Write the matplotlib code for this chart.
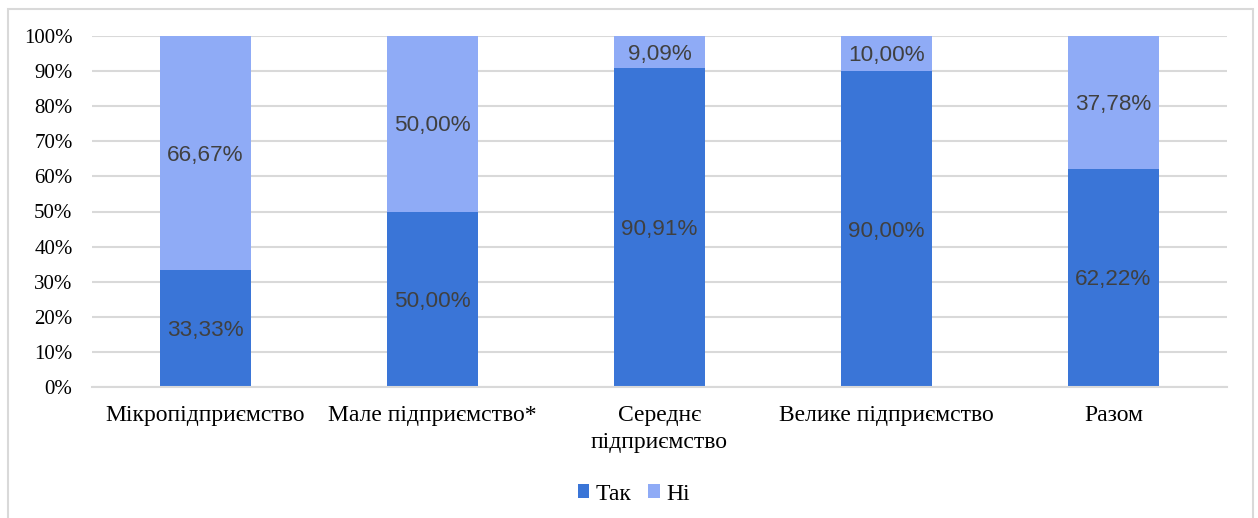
import numpy as np
import matplotlib.pyplot as plt
from matplotlib.patches import Rectangle

# Share of enterprises answering "yes"/"no", by enterprise size
categories = ['Мікропідприємство', 'Мале підприємство*', 'Середнє\nпідприємство',
              'Велике підприємство', 'Разом']
tak = [33.33, 50.00, 90.91, 90.00, 62.22]
ni = [66.67, 50.00, 9.09, 10.00, 37.78]
series_names = ['Так', 'Ні']

dark_blue = '#3A75D7'
light_blue = '#8FABF6'
grid_grey = '#D9D9D9'
label_grey = '#404040'

W, H = 1258, 518
fig = plt.figure(figsize=(W / 100, H / 100), dpi=100)

# light frame around the whole chart
fig.patches.append(Rectangle((8 / W, -0.05), (1253 - 8) / W, 1.05 - 9 / H,
                             transform=fig.transFigure, fill=False,
                             edgecolor=grid_grey, linewidth=1.5))

ax = fig.add_axes([92 / W, 1 - 387 / H, (1227 - 92) / W, (387 - 36) / H])

x = np.arange(len(categories))
width = 0.4
b1 = ax.bar(x, tak, width, color=dark_blue, label=series_names[0], zorder=2)
b2 = ax.bar(x, ni, width, bottom=tak, color=light_blue, label=series_names[1], zorder=2)

def fmt(v):
    return ('%.2f%%' % v).replace('.', ',')

# value labels in the middle of each segment
for bars, vals, base in [(b1, tak, [0] * len(tak)), (b2, ni, tak)]:
    for rect, v, b in zip(bars, vals, base):
        ax.annotate(fmt(v), (rect.get_x() + rect.get_width() / 2, b + v / 2),
                    xytext=(0, -1.5), textcoords='offset points',
                    ha='center', va='center', color=label_grey,
                    fontsize=16.2, family='Liberation Sans', zorder=3)

ax.set_xlim(-0.5, len(categories) - 0.5)
ax.set_ylim(0, 100)
ax.set_yticks(np.arange(0, 101, 10))
ax.set_yticklabels(['%d%%' % v for v in range(0, 101, 10)])
ax.set_xticks(x)
ax.set_xticklabels(categories, linespacing=1.35)

for lbl in ax.get_yticklabels():
    lbl.set_family('Liberation Serif')
    lbl.set_fontsize(15)
for lbl in ax.get_xticklabels():
    lbl.set_family('Liberation Serif')
    lbl.set_fontsize(17)

ax.tick_params(axis='both', length=0)
ax.tick_params(axis='y', pad=14)
ax.tick_params(axis='x', pad=13)
ax.yaxis.grid(True, color=grid_grey, linewidth=1.5, zorder=0)
ax.set_axisbelow(True)
for s in ['top', 'right', 'left']:
    ax.spines[s].set_visible(False)
ax.spines['bottom'].set_color(grid_grey)
ax.spines['bottom'].set_linewidth(1.5)

fig.legend(loc='center', bbox_to_anchor=(634 / W, 1 - 494 / H), ncol=2,
           frameon=False, prop={'family': 'Liberation Serif', 'size': 17},
           handlelength=0.5, handleheight=0.5, handletextpad=0.28,
           columnspacing=0.7)

fig.savefig('out.png', dpi=100)
